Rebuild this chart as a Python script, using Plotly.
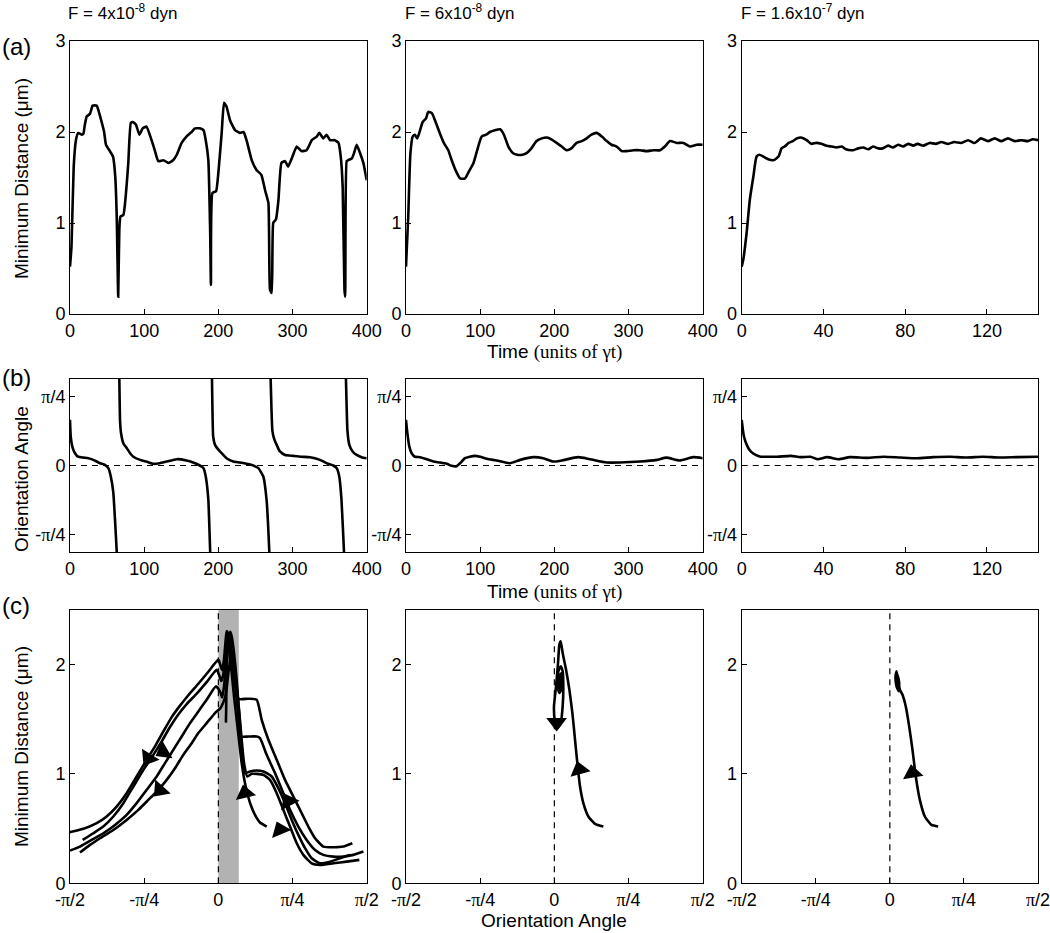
import plotly.graph_objects as go
import math

PI = math.pi

# ---------------- Row (a): minimum distance vs time ----------------
A1_T = [0,2,5,8,11,16,18,20,22.5,27,30.5,36,40,43,46,48.5,53,58,61,63,65,66.5,68,72,75.5,78.6,82,85,89,93.5,98,103,110,114.6,119,126,132.6,139,144,150.5,157,164,168.5,175,180,183,186.5,189,190,192,197,200,204.5,207.6,211,215.7,222.5,229,234,238,245,251.7,258,263,267.5,269.6,272,274,277.7,281,285,290,294,299,305.6,312,319,326,332.6,336,341.5,346,350.5,357,362,365,367.6,370,371,373,375,380,383,386.5,391,395.5,400]
A1_D = [0.52,0.74,1.62,1.91,1.99,1.97,1.98,2.08,2.17,2.2,2.29,2.29,2.19,2.1,2.0,1.86,1.80,1.73,1.51,1.07,0.19,0.93,1.07,1.09,1.33,1.66,2.10,2.11,2.08,1.97,2.04,2.06,1.91,1.79,1.68,1.69,1.66,1.69,1.75,1.88,1.95,2.0,2.04,2.04,2.02,1.91,1.69,0.89,0.32,1.33,1.35,1.55,1.99,2.32,2.28,2.13,2.02,1.99,2.0,1.91,1.69,1.58,1.53,1.36,1.22,0.27,0.23,1.0,1.04,1.25,1.66,1.68,1.62,1.71,1.84,1.79,1.80,1.91,1.95,1.99,1.93,1.97,1.91,1.91,1.88,1.73,1.40,0.27,0.19,1.68,1.69,1.71,1.77,1.86,1.77,1.66,1.47]

A2_T = [0,3,6,9,12,15,19,22.5,27,30,34.6,39,45,51,57,61.6,67.4,73,79.5,85,91,96,102,108,113,120,127,132,138,144,150,157,163,169,176,183,190,196,203,210,216.6,223,230,237,243.6,250,257,264,270.5,277,284,291,297.5,306.5,315.5,324.5,333.5,342.5,349,356,365,374,383,392,400]
A2_D = [0.52,1.07,1.77,1.95,1.97,1.93,2.02,2.11,2.15,2.22,2.21,2.13,2.0,1.88,1.80,1.69,1.57,1.49,1.49,1.57,1.66,1.80,1.95,1.97,2.0,2.02,2.03,1.97,1.84,1.77,1.75,1.75,1.77,1.82,1.90,1.93,1.94,1.92,1.88,1.84,1.80,1.82,1.88,1.90,1.93,1.97,1.99,1.95,1.90,1.86,1.84,1.79,1.79,1.80,1.80,1.79,1.80,1.80,1.84,1.90,1.88,1.88,1.84,1.86,1.86]

A3_T = [0,0.8,2.4,4,5.7,7.3,8.6,10.6,13,15.5,18,19.5,21,23,25,27,29,31.8,34,36.6,39,41.5,44,46.4,49,51,54.5,57,59.5,62,64.3,66.8,69,71.7,74,76.6,79,81.5,84,86,88.8,92,95,97.7,101,104,107.5,110.8,114,117,120.5,123.8,127,130.3,133.6,136.8,140,142.5,145]
A3_D = [0.52,0.60,0.89,1.26,1.51,1.73,1.75,1.73,1.70,1.69,1.73,1.82,1.84,1.88,1.90,1.93,1.94,1.91,1.87,1.88,1.87,1.85,1.84,1.83,1.84,1.81,1.80,1.82,1.83,1.81,1.84,1.82,1.82,1.85,1.83,1.86,1.84,1.87,1.85,1.87,1.85,1.88,1.87,1.89,1.87,1.89,1.88,1.91,1.88,1.93,1.90,1.93,1.90,1.93,1.90,1.91,1.90,1.92,1.91]

# ---------------- Row (b): orientation angle (rad) vs time ----------------
B1_T = [0,1,3.6,6.7,11,18,24.7,31.5,40.5,47,51.7,55,58.4,60.7,63,64, None,
        65.6,66.5,67.4,68.8,72,76.4,81,85.4,94.4,103,112,121,130,144,157,166,175,180,183,186.5,189,190, None,
        190.5,191.4,193,195.5,200,204.5,211,220,229,238,247,254,260.6,265,268.7,269.5, None,
        270,270.5,272.8,275,278.6,283,290,301,312,323.6,337,348,355,359.5,363,366,369.4,370.2, None,
        371,372,374,376.6,381,386.5,393,400]
B1_A = [0.52,0.33,0.20,0.14,0.10,0.09,0.083,0.064,0.026,0.008,-0.03,-0.125,-0.31,-0.62,-0.98,-1.2, None,
        1.2,0.985,0.52,0.37,0.25,0.20,0.14,0.10,0.064,0.045,0.019,0.026,0.045,0.072,0.057,0.034,0.0,-0.03,-0.125,-0.39,-0.985,-1.2, None,
        1.2,0.985,0.33,0.235,0.18,0.14,0.083,0.045,0.034,0.019,0.0,-0.03,-0.125,-0.39,-0.985,-1.2, None,
        1.2,0.985,0.40,0.31,0.235,0.16,0.12,0.11,0.10,0.095,0.064,0.019,0.0,-0.03,-0.125,-0.39,-0.985,-1.2, None,
        1.2,0.985,0.40,0.235,0.16,0.12,0.095,0.083]

B2_T = [0,1.8,4.5,7.6,12,19,28,37,46,55,61.6,67.4,73,79.5,86,93,100,109,122,140,154,172,185,199,210,232,248,270.5,288.5,315.5,338,351,369,387,400]
B2_A = [0.52,0.37,0.215,0.14,0.10,0.095,0.072,0.045,0.034,0.019,-0.004,-0.011,0.026,0.083,0.10,0.11,0.10,0.076,0.057,0.026,0.064,0.095,0.083,0.045,0.057,0.095,0.072,0.034,0.034,0.045,0.064,0.09,0.057,0.095,0.083]

B3_T = [0,1.1,2.8,4.4,6.8,9.3,12.5,17.4,24,28.8,33.7,37,41.8,47.5,53,61.3,69.4,77.6,85.7,93.8,102,110,118,126,134.5,145]
B3_A = [0.52,0.33,0.217,0.16,0.12,0.10,0.10,0.10,0.11,0.095,0.10,0.072,0.095,0.072,0.095,0.087,0.10,0.091,0.083,0.095,0.10,0.091,0.10,0.091,0.095,0.10]

# ---------------- Row (c): phase portraits (angle rad, distance um) ----------------
C1_PASS1_ANG = [0.512,0.441,0.388,0.342,0.307,0.275,0.247,0.222,0.194,0.166,0.141,0.116,0.102,0.088,
                0.075,0.06,0.04,0.02,
                0.000,-0.106,-0.212,-0.318,-0.406,-0.494,-0.582,-0.671,-0.759,-0.865,-0.971,-1.077,-1.183,-1.288,-1.412,-1.543,-1.589]
C1_PASS1_D = [0.519,0.556,0.626,0.718,0.824,0.947,1.099,1.282,1.496,1.710,1.924,2.137,2.290,2.305,
              2.2,2.05,1.95,2.0,
              2.046,1.935,1.825,1.72,1.625,1.52,1.389,1.252,1.130,0.977,0.824,0.702,0.611,0.550,0.504,0.473,0.464]
C1_PASS2_ANG = [1.536,1.430,1.324,1.218,1.112,1.024,0.935,0.847,0.759,0.688,0.600,0.512,0.441,0.406,0.318,0.237,0.212,0.187,0.159,0.131,
                0.12,0.10,0.08,0.05,0.03,0.01,
                -0.018,-0.124,-0.229,-0.335,-0.424,-0.512,-0.600,-0.688,-0.794,-0.900,-1.006,-1.112,-1.218,-1.324,-1.437]
C1_PASS2_D = [0.290,0.260,0.244,0.244,0.260,0.305,0.397,0.519,0.672,0.824,1.008,1.175,1.328,1.343,1.343,1.343,1.527,1.740,1.985,2.198,
              2.28,2.25,2.1,1.9,1.85,1.9,
              1.954,1.84,1.735,1.64,1.545,1.43,1.298,1.175,1.038,0.885,0.733,0.611,0.519,0.458,0.397]
C1_PASS3_ANG = [1.394,1.288,1.183,1.077,0.988,0.918,0.847,0.777,0.706,0.635,0.565,0.477,0.406,0.335,0.282,0.258,0.237,0.215,0.194,0.166,0.141,
                0.125,0.105,0.08,0.06,0.04,0.02,
                -0.025,-0.124,-0.212,-0.300,-0.388,-0.477,-0.565,-0.653,-0.759,-0.865,-0.971,-1.094,-1.218,-1.341,-1.465,-1.571]
C1_PASS3_D = [0.260,0.229,0.198,0.183,0.229,0.321,0.443,0.580,0.733,0.870,0.977,1.023,1.032,1.023,1.008,1.130,1.374,1.618,1.862,2.107,2.259,
              2.30,2.2,2.0,1.8,1.7,1.75,
              1.801,1.679,1.572,1.465,1.343,1.221,1.099,0.977,0.855,0.733,0.626,0.534,0.458,0.397,0.336,0.299]
C1_PASS4_ANG = [1.493,1.359,1.218,1.077,0.988,0.900,0.830,0.759,0.688,0.618,0.547,0.477,0.406,0.353,0.307,0.272,0.247,0.222,0.194,0.159,
                0.14,0.11,0.09,0.07,0.05,0.02,
                -0.035,-0.124,-0.212,-0.282,-0.371,-0.459,-0.547,-0.635,-0.741,-0.847,-0.971,-1.112,-1.253,-1.359,-1.465]
C1_PASS4_D = [0.214,0.198,0.183,0.168,0.183,0.260,0.366,0.519,0.672,0.824,0.946,0.992,1.001,1.001,0.977,1.099,1.313,1.557,1.801,2.046,
              2.1,1.95,1.8,1.7,1.65,1.6,
              1.557,1.465,1.374,1.282,1.175,1.053,0.946,0.855,0.763,0.672,0.580,0.488,0.412,0.351,0.281]
C1_PASS5_ANG = [1.419,1.324,1.218,1.112,1.024,0.953,0.883,0.794,0.706,0.618,0.530,0.459,0.406,0.318,0.212,0.177,0.141,0.116,
                0.10,0.09,0.085,0.083,0.08]
C1_PASS5_D = [0.366,0.336,0.330,0.336,0.412,0.519,0.641,0.794,0.946,1.130,1.313,1.496,1.679,1.688,1.688,1.832,2.046,2.259,
              2.15,1.95,1.75,1.6,1.47]
C1_ARROW_ANG = [-0.741,-0.582,-0.618,0.282,0.741,0.653]
C1_ARROW_D = [1.145,1.206,0.855,0.824,0.748,0.489]
C1_ARROW_DIR = [212,240,222,347,333,338]
C1_BAND = [0.0, 0.216]

C2_ANG = [0.519,0.431,0.360,0.307,0.272,0.247,0.219,0.191,0.159,0.124,0.088,0.067,0.053,0.039,0.018,-0.004,0.004,0.032,0.067,0.088,0.095,0.088,0.067,0.042,0.032,0.053,0.088,0.078,0.053,0.060,0.078,0.07,0.05,0.055,0.075,0.07,0.055,0.065]
C2_D = [0.519,0.544,0.611,0.733,0.885,1.069,1.313,1.557,1.771,1.954,2.107,2.214,2.183,2.015,1.802,1.618,1.496,1.420,1.466,1.618,1.802,1.939,1.985,1.939,1.802,1.740,1.802,1.924,1.893,1.802,1.832,1.90,1.86,1.78,1.79,1.87,1.84,1.80]
C2_ARROW_ANG = [0.024,0.265]
C2_ARROW_D = [1.47,1.04]
C2_ARROW_DIR = [180,345]

C3_ANG = [0.512,0.441,0.371,0.318,0.275,0.240,0.205,0.169,0.134,0.106,0.088,0.071,0.060,0.071,0.095,0.099,0.081,0.067,0.085]
C3_D = [0.519,0.534,0.611,0.763,0.977,1.221,1.435,1.618,1.725,1.771,1.863,1.939,1.893,1.802,1.756,1.832,1.908,1.847,1.80]
C3_ARROW_ANG = [0.240]
C3_ARROW_D = [1.008]
C3_ARROW_DIR = [350]

# ---------------- Labels ----------------
COL_TITLES = ["F = 4x10<sup>-8</sup> dyn", "F = 6x10<sup>-8</sup> dyn", "F = 1.6x10<sup>-7</sup> dyn"]
PANEL_LABELS = ["(a)", "(b)", "(c)"]
TIME_TICKS_400 = [0, 100, 200, 300, 400]
TIME_TICKS_145 = [0, 40, 80, 120]
SERIF = "Liberation Serif, Times New Roman, serif"
SANS = "Liberation Sans, Arial, sans-serif"
PI_SPAN = "<span style='font-family:%s'>π</span>" % SERIF
ANGLE_Y_VALS = [-PI/4, 0, PI/4]
ANGLE_Y_TEXT = ["-" + PI_SPAN + "/4", "0", PI_SPAN + "/4"]
ANGLE_X_VALS = [-PI/2, -PI/4, 0, PI/4, PI/2]
ANGLE_X_TEXT = ["-" + PI_SPAN + "/2", "-" + PI_SPAN + "/4", "0", PI_SPAN + "/4", PI_SPAN + "/2"]

W, H = 1050, 933
def px(v): return v / W
def py(v): return 1 - v / H

COL_X = [(70, 366.7), (406, 702.7), (741.7, 1038)]
ROW_Y = [(41, 314), (379, 552), (610, 883.3)]

fig = go.Figure()

def ax_name(k, kind):
    return kind if k == 1 else f"{kind}{k}"

def add_line(k, x, y, smooth=0.6):
    fig.add_trace(go.Scatter(x=x, y=y, mode="lines",
                             line=dict(color="black", width=2.6, shape="spline", smoothing=smooth),
                             xaxis=ax_name(k, "x"), yaxis=ax_name(k, "y"),
                             showlegend=False, hoverinfo="skip", connectgaps=False))

def add_arrows(k, x, y, d):
    fig.add_trace(go.Scatter(x=x, y=y, mode="markers",
                             marker=dict(symbol="triangle-up", size=18, color="black", angle=d,
                                         line=dict(width=0)),
                             xaxis=ax_name(k, "x"), yaxis=ax_name(k, "y"),
                             showlegend=False, hoverinfo="skip", cliponaxis=False))

# row a
add_line(1, A1_T, A1_D, 0.4)
add_line(2, A2_T, A2_D)
add_line(3, A3_T, A3_D)
# row b
add_line(4, B1_T, B1_A, 0.4)
add_line(5, B2_T, B2_A)
add_line(6, B3_T, B3_A)
# row c
for xs, ys in [(C1_PASS1_ANG, C1_PASS1_D), (C1_PASS2_ANG, C1_PASS2_D), (C1_PASS3_ANG, C1_PASS3_D),
               (C1_PASS4_ANG, C1_PASS4_D), (C1_PASS5_ANG, C1_PASS5_D)]:
    add_line(7, xs, ys, 0.5)
add_arrows(7, C1_ARROW_ANG, C1_ARROW_D, C1_ARROW_DIR)
add_line(8, C2_ANG, C2_D, 0.5)
add_arrows(8, C2_ARROW_ANG, C2_ARROW_D, C2_ARROW_DIR)
add_line(9, C3_ANG, C3_D, 0.5)
add_arrows(9, C3_ARROW_ANG, C3_ARROW_D, C3_ARROW_DIR)

axis_common = dict(showline=True, linecolor="black", linewidth=1, mirror=True,
                   ticks="inside", ticklen=5, tickwidth=1, tickcolor="black",
                   showgrid=False, zeroline=False, automargin=False,
                   ticklabeloverflow="allow",
                   tickfont=dict(family=SANS, size=18, color="black"),
                   fixedrange=True)

layout = dict(template="none", width=W, height=H, autosize=False,
              margin=dict(l=0, r=0, t=0, b=0, pad=0),
              paper_bgcolor="white", plot_bgcolor="white",
              font=dict(family=SANS, color="black", size=18), showlegend=False)

for r in range(3):
    for c in range(3):
        k = r * 3 + c + 1
        xd = [px(COL_X[c][0]), px(COL_X[c][1])]
        yd = [py(ROW_Y[r][1]), py(ROW_Y[r][0])]
        xa = dict(axis_common, domain=xd, anchor=ax_name(k, "y"))
        ya = dict(axis_common, domain=yd, anchor=ax_name(k, "x"))
        if r < 2:
            if c < 2:
                xa.update(range=[0, 400], tickvals=TIME_TICKS_400)
            else:
                xa.update(range=[0, 145], tickvals=TIME_TICKS_145)
        else:
            xa.update(range=[-PI/2, PI/2], tickvals=ANGLE_X_VALS, ticktext=ANGLE_X_TEXT)
        if r == 0:
            ya.update(range=[0, 3], tickvals=[0, 1, 2, 3])
        elif r == 1:
            ya.update(range=[-0.985, 0.985], tickvals=ANGLE_Y_VALS, ticktext=ANGLE_Y_TEXT)
        else:
            ya.update(range=[0, 2.5], tickvals=[0, 1, 2])
        layout["xaxis" if k == 1 else f"xaxis{k}"] = xa
        layout["yaxis" if k == 1 else f"yaxis{k}"] = ya

fig.update_layout(**layout)

shapes = []
shapes.append(dict(type="rect", xref="x7", yref="y7 domain", x0=C1_BAND[0], x1=C1_BAND[1], y0=0, y1=1,
                   fillcolor="#b2b2b2", line=dict(width=0), layer="below"))
for k in (4, 5, 6):
    shapes.append(dict(type="line", xref=f"x{k} domain", yref=f"y{k}", x0=0, x1=1, y0=0, y1=0,
                       line=dict(color="black", width=1.2, dash="6px,5px"), layer="above"))
for k in (7, 8, 9):
    shapes.append(dict(type="line", xref=f"x{k}", yref=f"y{k} domain", x0=0, x1=0, y0=0, y1=1,
                       line=dict(color="black", width=1.2, dash="6px,5px"), layer="below"))
fig.update_layout(shapes=shapes)

ann = []
title_x = [66, 403, 739]
for i, t in enumerate(COL_TITLES):
    ann.append(dict(text=t, x=px(title_x[i]), y=py(12), xref="paper", yref="paper",
                    xanchor="left", yanchor="middle", showarrow=False, font=dict(size=17)))
for lab, yy in zip(PANEL_LABELS, [46, 378, 605]):
    ann.append(dict(text=lab, x=0, y=py(yy), xref="paper", yref="paper",
                    xanchor="left", yanchor="middle", showarrow=False, font=dict(size=24)))
for lab, yy in [("Minimum Distance (μm)", 179), ("Orientation Angle", 479), ("Minimum Distance (μm)", 747)]:
    ann.append(dict(text=lab, x=px(21), y=py(yy), xref="paper", yref="paper", textangle=-90,
                    xanchor="center", yanchor="middle", showarrow=False, font=dict(size=19)))
time_lab = "Time <span style='font-family:%s'>(units of γt)</span>" % SERIF
for lab, yy in [(time_lab, 352), (time_lab, 592), ("Orientation Angle", 920)]:
    ann.append(dict(text=lab, x=px(554), y=py(yy), xref="paper", yref="paper",
                    xanchor="center", yanchor="middle", showarrow=False, font=dict(size=19)))
fig.update_layout(annotations=ann)

fig.write_html("out.html", config={"displayModeBar": False, "staticPlot": True},
               post_script="document.body.style.margin='0';document.body.style.overflow='hidden';")
